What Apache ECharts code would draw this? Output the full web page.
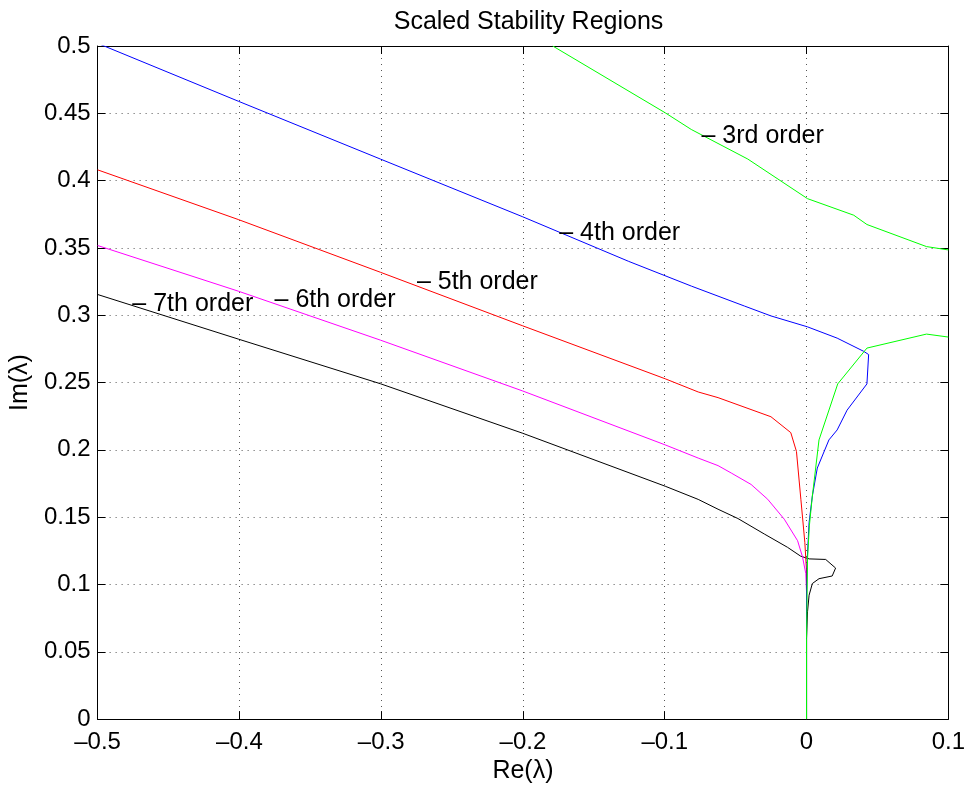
<!DOCTYPE html>
<html>
<head>
<meta charset="utf-8">
<script src="https://cdn.jsdelivr.net/npm/echarts@6/dist/echarts.min.js"></script>
<style>
html,body{margin:0;padding:0;background:#fff;}
#chart{width:968px;height:789px;}
</style>
</head>
<body>
<div id="chart"></div>
<script>
// ---- data ----
const titleText = 'Scaled Stability Regions';
const xName = 'Re(λ)';
const yName = 'Im(λ)';
const xTicks = [-0.5, -0.4, -0.3, -0.2, -0.1, 0, 0.1];
const yTicks = [0, 0.05, 0.1, 0.15, 0.2, 0.25, 0.3, 0.35, 0.4, 0.45, 0.5];

const order3Upper = [[-0.179,0.5],[-0.0997,0.4504],[-0.0813,0.438],[-0.0414,0.416],[0.0007,0.3866],[0.0333,0.3743],[0.0426,0.3674],[0.0846,0.351],[0.1,0.3485]];
const order3Lower = [[0.1,0.2838],[0.0846,0.286],[0.0426,0.2756],[0.022,0.249],[0.0088,0.2074],[0.0041,0.1657],[0.002,0.1436],[0.0007,0.119],[0,0.06],[0,0]];
const order4 = [[-0.5,0.502],[-0.4008,0.459],[-0.3005,0.416],[-0.2001,0.3731],[-0.1254,0.34],[-0.0811,0.3216],[-0.0437,0.3068],[-0.0251,0.2995],[0.0006,0.2914],[0.0216,0.283],[0.0403,0.2732],[0.0438,0.2708],[0.0426,0.249],[0.0286,0.2295],[0.0216,0.2148],[0.0158,0.2074],[0.0076,0.1865],[0.0041,0.1657],[0.0018,0.146],[0.0005,0.119],[0,0.09],[0,0]];
const order5 = [[-0.5,0.408],[-0.4008,0.3711],[-0.3005,0.3319],[-0.2001,0.2921],[-0.0997,0.2528],[-0.0764,0.243],[-0.0624,0.2388],[-0.0251,0.2246],[-0.0111,0.2128],[-0.0071,0.1988],[-0.004,0.1633],[-0.0012,0.1313],[0,0.11],[0,0]];
const order6 = [[-0.5,0.3518],[-0.4008,0.3179],[-0.3005,0.2815],[-0.2001,0.2437],[-0.0997,0.2037],[-0.0764,0.1939],[-0.0624,0.1883],[-0.0531,0.1828],[-0.0391,0.1743],[-0.0274,0.1633],[-0.0157,0.1485],[-0.0063,0.1325],[-0.0028,0.1203],[-0.0005,0.108],[0,0.094],[0,0]];
const order7 = [[-0.5,0.3154],[-0.4008,0.2823],[-0.3005,0.2491],[-0.2001,0.2123],[-0.0997,0.173],[-0.0764,0.1632],[-0.0624,0.1559],[-0.0484,0.149],[-0.0298,0.1375],[-0.0134,0.1276],[-0.0041,0.121],[0.0019,0.119],[0.0135,0.1186],[0.0205,0.1122],[0.0181,0.1063],[0.0088,0.1043],[0.0041,0.1007],[0.0018,0.092],[0.0007,0.0797],[0,0.06],[0,0]];

const labelTexts = ['– 3rd order', '– 4th order', '– 5th order', '– 6th order', '– 7th order'];
const labelX = [-0.0741, -0.1744, -0.2748, -0.3752, -0.4755];
const labelY = [0.433, 0.3613, 0.3247, 0.311, 0.308];

// ---- chart ----
const FONT = '"Liberation Sans", Arial, Helvetica, sans-serif';
const chart = echarts.init(document.getElementById('chart'), null, {renderer: 'canvas'});

function fmt(v) {
  const n = Math.round(v * 1000) / 1000;
  if (n < 0) return '–' + String(Math.abs(n));
  return String(n);
}

const xMin = xTicks[0], xMax = xTicks[xTicks.length - 1];
const yMin = yTicks[0], yMax = yTicks[yTicks.length - 1];
const xStep = Math.round((xTicks[1] - xTicks[0]) * 1000) / 1000;
const yStep = Math.round((yTicks[1] - yTicks[0]) * 1000) / 1000;

const gridLeft = 95, gridRight = 16, W = 968;
const gridLine = {show: true, lineStyle: {color: '#555', width: 1, type: [1, 5]}};

function lineSeries(name, data, color, xi) {
  return {
    name: name, type: 'line', data: data, showSymbol: false, symbol: 'none',
    lineStyle: {color: color, width: 1}, clip: true, animation: false,
    xAxisIndex: 0, yAxisIndex: 0, z: 3 + xi
  };
}

const labelData = labelTexts.map((t, i) => ({value: [labelX[i], labelY[i]], name: t}));

chart.setOption({
  animation: false,
  backgroundColor: '#fff',
  title: {
    text: titleText, left: (gridLeft + (W - gridRight)) / 2, textAlign: 'center', top: 5,
    textStyle: {fontFamily: FONT, fontSize: 25, fontWeight: 'normal', color: '#000'}
  },
  grid: {left: gridLeft, right: gridRight, top: 46, bottom: 64, containLabel: false},
  xAxis: [{
    type: 'value', min: xMin, max: xMax, interval: xStep,
    name: xName, nameLocation: 'middle', nameGap: 32,
    nameTextStyle: {fontFamily: FONT, fontSize: 25, color: '#000'},
    axisLine: {show: true, onZero: false, lineStyle: {color: '#000', width: 1}},
    axisTick: {show: true, inside: true, length: 8, lineStyle: {color: '#000'}},
    axisLabel: {fontFamily: FONT, fontSize: 24, color: '#000', margin: 11, formatter: fmt},
    splitLine: gridLine
  }, {
    type: 'value', min: xMin, max: xMax, interval: xStep, position: 'top',
    axisLine: {show: true, onZero: false, lineStyle: {color: '#000', width: 1}},
    axisTick: {show: true, inside: true, length: 8, lineStyle: {color: '#000'}},
    axisLabel: {show: false}, splitLine: {show: false}
  }],
  yAxis: [{
    type: 'value', min: yMin, max: yMax, interval: yStep,
    name: yName, nameLocation: 'middle', nameGap: 63,
    nameTextStyle: {fontFamily: FONT, fontSize: 25, color: '#000'},
    axisLine: {show: true, onZero: false, lineStyle: {color: '#000', width: 1}},
    axisTick: {show: true, inside: true, length: 8, lineStyle: {color: '#000'}},
    axisLabel: {fontFamily: FONT, fontSize: 24, color: '#000', margin: 7, formatter: fmt},
    splitLine: gridLine
  }, {
    type: 'value', min: yMin, max: yMax, interval: yStep, position: 'right',
    axisLine: {show: true, onZero: false, lineStyle: {color: '#000', width: 1}},
    axisTick: {show: true, inside: true, length: 8, lineStyle: {color: '#000'}},
    axisLabel: {show: false}, splitLine: {show: false}
  }],
  series: [
    lineSeries('7th order', order7, '#000000', 0),
    lineSeries('6th order', order6, '#ff00ff', 1),
    lineSeries('5th order', order5, '#ff0000', 2),
    lineSeries('4th order', order4, '#0000ff', 3),
    lineSeries('3rd order (upper)', order3Upper, '#00ff00', 4),
    lineSeries('3rd order (lower)', order3Lower, '#00ff00', 5),
    {
      type: 'scatter', data: labelData, symbolSize: 0, silent: true, z: 20,
      itemStyle: {opacity: 1},
      label: {
        show: true, position: 'right', distance: 0, formatter: p => p.name,
        fontFamily: FONT, fontSize: 25, color: '#000', opacity: 1
      }
    }
  ]
});
</script>
</body>
</html>
